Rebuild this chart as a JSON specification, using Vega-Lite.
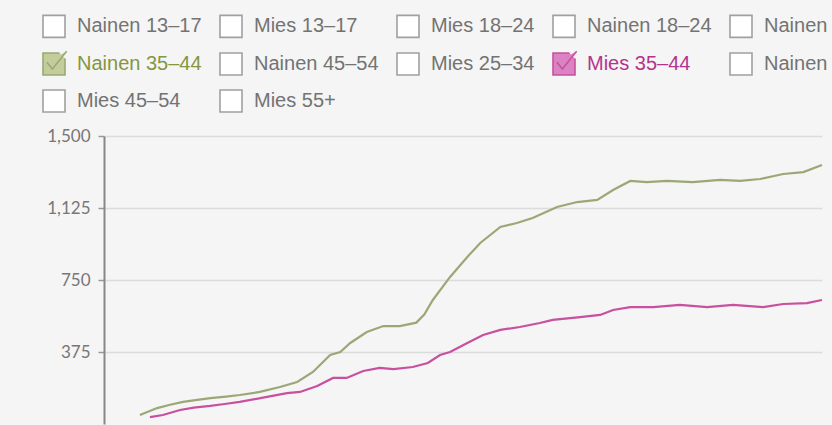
{
  "$schema": "https://vega.github.io/schema/vega-lite/v6.json",
  "width": 718,
  "height": 288,
  "autosize": {"type": "none"},
  "padding": {"left": 104, "top": 136, "right": 10, "bottom": 1},
  "background": "#f5f5f5",
  "config": {
    "view": {"stroke": null},
    "legend": {
      "orient": "none",
      "direction": "horizontal",
      "legendX": -62,
      "legendY": -122,
      "columns": 5,
      "columnPadding": 14,
      "rowPadding": 7,
      "symbolSize": 484,
      "symbolStrokeWidth": 1.6,
      "symbolOpacity": 1,
      "labelFont": "Liberation Sans",
      "labelFontSize": 20,
      "labelOffset": 11,
      "labelLimit": 200,
      "labelColor": {"expr": "datum.value === 'Nainen 35–44' ? '#849642' : datum.value === 'Mies 35–44' ? '#b4338c' : '#737373'"}
    }
  },
  "data": {
    "values": [
      {"x": 5.0, "series": "Nainen 35–44", "value": 47},
      {"x": 7.4, "series": "Nainen 35–44", "value": 83},
      {"x": 9.2, "series": "Nainen 35–44", "value": 100},
      {"x": 11.0, "series": "Nainen 35–44", "value": 115},
      {"x": 13.0, "series": "Nainen 35–44", "value": 126},
      {"x": 14.8, "series": "Nainen 35–44", "value": 135},
      {"x": 17.0, "series": "Nainen 35–44", "value": 143},
      {"x": 18.9, "series": "Nainen 35–44", "value": 151},
      {"x": 21.7, "series": "Nainen 35–44", "value": 167},
      {"x": 24.5, "series": "Nainen 35–44", "value": 193},
      {"x": 26.9, "series": "Nainen 35–44", "value": 219},
      {"x": 29.1, "series": "Nainen 35–44", "value": 271},
      {"x": 31.5, "series": "Nainen 35–44", "value": 359},
      {"x": 32.9, "series": "Nainen 35–44", "value": 375},
      {"x": 34.3, "series": "Nainen 35–44", "value": 422},
      {"x": 36.6, "series": "Nainen 35–44", "value": 479},
      {"x": 38.9, "series": "Nainen 35–44", "value": 510},
      {"x": 41.2, "series": "Nainen 35–44", "value": 510},
      {"x": 43.5, "series": "Nainen 35–44", "value": 528},
      {"x": 44.6, "series": "Nainen 35–44", "value": 570},
      {"x": 45.8, "series": "Nainen 35–44", "value": 646},
      {"x": 48.2, "series": "Nainen 35–44", "value": 766},
      {"x": 50.6, "series": "Nainen 35–44", "value": 870},
      {"x": 52.4, "series": "Nainen 35–44", "value": 943},
      {"x": 55.2, "series": "Nainen 35–44", "value": 1026},
      {"x": 57.5, "series": "Nainen 35–44", "value": 1047},
      {"x": 59.7, "series": "Nainen 35–44", "value": 1073},
      {"x": 63.1, "series": "Nainen 35–44", "value": 1130},
      {"x": 65.9, "series": "Nainen 35–44", "value": 1156},
      {"x": 68.7, "series": "Nainen 35–44", "value": 1167},
      {"x": 70.9, "series": "Nainen 35–44", "value": 1219},
      {"x": 73.3, "series": "Nainen 35–44", "value": 1266},
      {"x": 75.6, "series": "Nainen 35–44", "value": 1260},
      {"x": 78.4, "series": "Nainen 35–44", "value": 1266},
      {"x": 82.0, "series": "Nainen 35–44", "value": 1260},
      {"x": 85.8, "series": "Nainen 35–44", "value": 1271},
      {"x": 88.6, "series": "Nainen 35–44", "value": 1266},
      {"x": 91.4, "series": "Nainen 35–44", "value": 1276},
      {"x": 94.6, "series": "Nainen 35–44", "value": 1302},
      {"x": 97.4, "series": "Nainen 35–44", "value": 1312},
      {"x": 100.0, "series": "Nainen 35–44", "value": 1349},
      {"x": 6.4, "series": "Mies 35–44", "value": 36},
      {"x": 8.2, "series": "Mies 35–44", "value": 47},
      {"x": 10.6, "series": "Mies 35–44", "value": 73},
      {"x": 12.5, "series": "Mies 35–44", "value": 85},
      {"x": 14.8, "series": "Mies 35–44", "value": 94},
      {"x": 16.8, "series": "Mies 35–44", "value": 104},
      {"x": 18.9, "series": "Mies 35–44", "value": 115},
      {"x": 22.7, "series": "Mies 35–44", "value": 141},
      {"x": 25.5, "series": "Mies 35–44", "value": 161},
      {"x": 27.3, "series": "Mies 35–44", "value": 167},
      {"x": 29.7, "series": "Mies 35–44", "value": 198},
      {"x": 31.9, "series": "Mies 35–44", "value": 240},
      {"x": 33.8, "series": "Mies 35–44", "value": 240},
      {"x": 36.1, "series": "Mies 35–44", "value": 276},
      {"x": 38.4, "series": "Mies 35–44", "value": 292},
      {"x": 40.3, "series": "Mies 35–44", "value": 286},
      {"x": 43.0, "series": "Mies 35–44", "value": 297},
      {"x": 45.1, "series": "Mies 35–44", "value": 318},
      {"x": 46.8, "series": "Mies 35–44", "value": 359},
      {"x": 48.2, "series": "Mies 35–44", "value": 375},
      {"x": 50.6, "series": "Mies 35–44", "value": 422},
      {"x": 52.8, "series": "Mies 35–44", "value": 464},
      {"x": 55.2, "series": "Mies 35–44", "value": 490},
      {"x": 57.9, "series": "Mies 35–44", "value": 505},
      {"x": 60.7, "series": "Mies 35–44", "value": 526},
      {"x": 62.5, "series": "Mies 35–44", "value": 542},
      {"x": 66.3, "series": "Mies 35–44", "value": 557},
      {"x": 69.1, "series": "Mies 35–44", "value": 568},
      {"x": 70.9, "series": "Mies 35–44", "value": 594},
      {"x": 73.3, "series": "Mies 35–44", "value": 609},
      {"x": 76.5, "series": "Mies 35–44", "value": 609},
      {"x": 80.2, "series": "Mies 35–44", "value": 620},
      {"x": 84.0, "series": "Mies 35–44", "value": 609},
      {"x": 87.6, "series": "Mies 35–44", "value": 620},
      {"x": 91.8, "series": "Mies 35–44", "value": 609},
      {"x": 94.6, "series": "Mies 35–44", "value": 625},
      {"x": 97.9, "series": "Mies 35–44", "value": 630},
      {"x": 100.0, "series": "Mies 35–44", "value": 646}
    ]
  },
  "encoding": {
    "x": {"field": "x", "type": "quantitative", "scale": {"domain": [0, 100]}, "axis": null},
    "y": {
      "field": "value",
      "type": "quantitative",
      "scale": {"domain": [0, 1500], "nice": false},
      "axis": {
        "values": [375, 750, 1125, 1500],
        "format": ",.0f",
        "title": null,
        "labelFont": "Lato",
        "labelFontSize": 17,
        "labelColor": "#777777",
        "labelPadding": 8,
        "tickSize": 6,
        "tickColor": "#999999",
        "tickWidth": 1.5,
        "domainColor": "#888888",
        "domainWidth": 2,
        "gridColor": "#dcdcdc",
        "gridWidth": 1.5
      }
    },
    "stroke": {
      "field": "series",
      "type": "nominal",
      "scale": {
        "domain": ["Nainen 13–17", "Mies 13–17", "Mies 18–24", "Nainen 18–24", "Nainen 25–34", "Nainen 35–44", "Nainen 45–54", "Mies 25–34", "Mies 35–44", "Nainen 55+", "Mies 45–54", "Mies 55+"],
        "range": ["#a0a0a0", "#a0a0a0", "#a0a0a0", "#a0a0a0", "#a0a0a0", "#9ba876", "#a0a0a0", "#a0a0a0", "#c8509f", "#a0a0a0", "#a0a0a0", "#a0a0a0"]
      },
      "legend": {"title": null, "labelExpr": "datum.value === 'Nainen 25–34' || datum.value === 'Nainen 55+' ? 'Nainen' : datum.label"}
    }
  },
  "layer": [
    {"mark": {"type": "line", "strokeWidth": 2.2}},
    {
      "transform": [{"filter": "false"}],
      "mark": {"type": "point", "filled": true, "opacity": 1},
      "encoding": {
        "fill": {
          "field": "series",
          "type": "nominal",
          "scale": {
            "domain": ["Nainen 13–17", "Mies 13–17", "Mies 18–24", "Nainen 18–24", "Nainen 25–34", "Nainen 35–44", "Nainen 45–54", "Mies 25–34", "Mies 35–44", "Nainen 55+", "Mies 45–54", "Mies 55+"],
            "range": ["#ffffff", "#ffffff", "#ffffff", "#ffffff", "#ffffff", "#c3cd9c", "#ffffff", "#ffffff", "#da82c2", "#ffffff", "#ffffff", "#ffffff"]
          },
          "legend": {"title": null, "labelExpr": "datum.value === 'Nainen 25–34' || datum.value === 'Nainen 55+' ? 'Nainen' : datum.label"}
        },
        "shape": {
          "field": "series",
          "type": "nominal",
          "scale": {
            "domain": ["Nainen 13–17", "Mies 13–17", "Mies 18–24", "Nainen 18–24", "Nainen 25–34", "Nainen 35–44", "Nainen 45–54", "Mies 25–34", "Mies 35–44", "Nainen 55+", "Mies 45–54", "Mies 55+"],
            "range": ["M-1,-1H1V1H-1Z", "M-1,-1H1V1H-1Z", "M-1,-1H1V1H-1Z", "M-1,-1H1V1H-1Z", "M-1,-1H1V1H-1Z", "M0.5,-1H-1V1H1V-0.5M-0.65,-0.15L-0.15,0.45L1.15,-1.15", "M-1,-1H1V1H-1Z", "M-1,-1H1V1H-1Z", "M0.5,-1H-1V1H1V-0.5M-0.65,-0.15L-0.15,0.45L1.15,-1.15", "M-1,-1H1V1H-1Z", "M-1,-1H1V1H-1Z", "M-1,-1H1V1H-1Z"]
          },
          "legend": {"title": null, "labelExpr": "datum.value === 'Nainen 25–34' || datum.value === 'Nainen 55+' ? 'Nainen' : datum.label"}
        }
      }
    }
  ]
}
